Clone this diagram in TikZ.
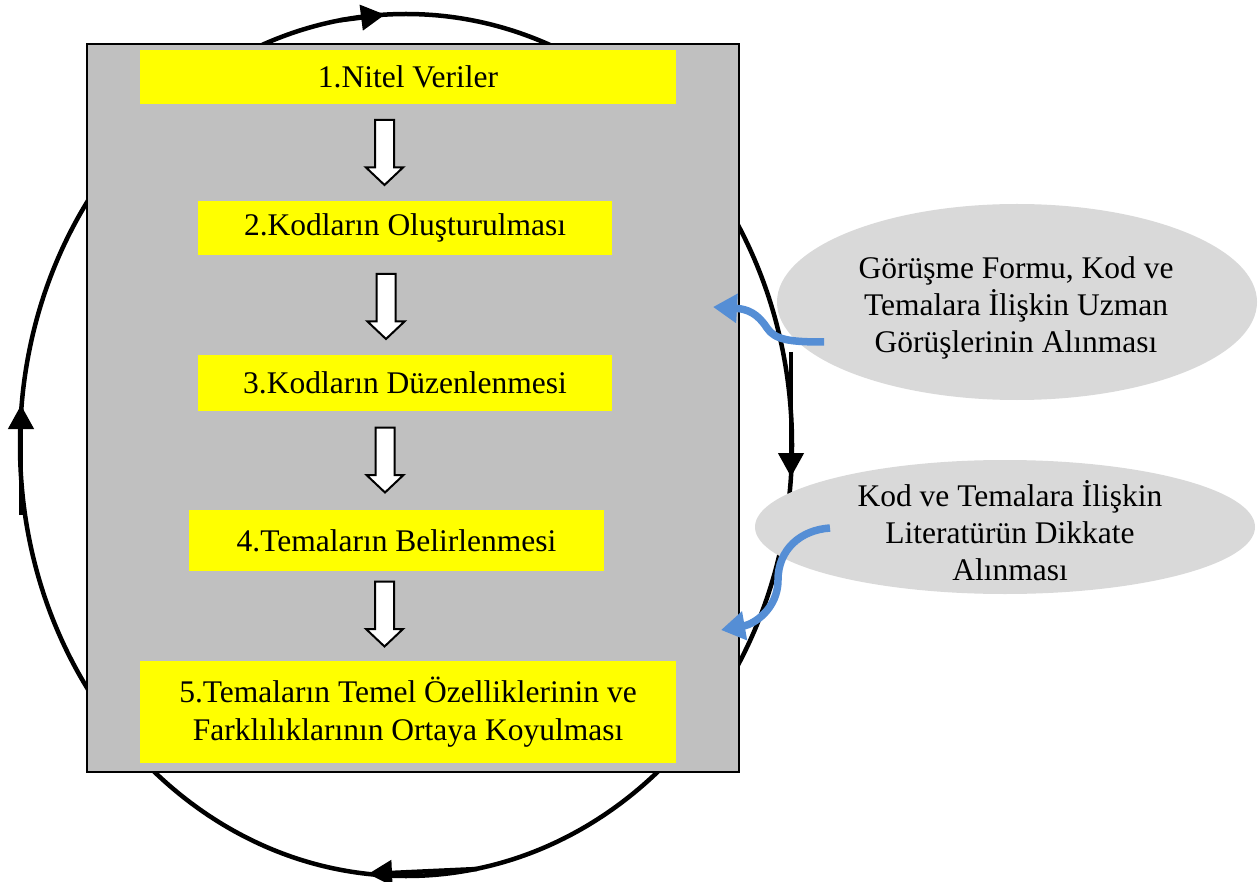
\documentclass[tikz,border=0pt]{standalone}
\usepackage{fontspec}
\setmainfont{Liberation Serif}
\usetikzlibrary{arrows.meta}
\definecolor{boxgray}{RGB}{192,192,192}
\definecolor{ellgray}{RGB}{217,217,217}
\definecolor{flowblue}{RGB}{85,142,213}
\definecolor{stepyellow}{RGB}{255,255,0}
\begin{document}
\begin{tikzpicture}[x=1pt,y=-1pt,
  stepbox/.style={fill=stepyellow, inner sep=0pt, font=\fontsize{31.5}{38}\selectfont, align=center},
  notetext/.style={inner sep=0pt, font=\fontsize{31.5}{37}\selectfont, align=center},
  cyc/.style={line width=4.5pt},
  cyctip/.style={line width=4.5pt,-{Triangle[length=24pt,width=25pt]}},
  hollow/.style={fill=white, draw=black, line width=2pt, line join=miter},
  bluearrow/.style={draw=flowblue, line width=7.5pt, -{Triangle[length=24pt,width=28pt]}},
  hollowarrow/.pic={\draw[hollow] (-9.5,-32.5) -- (9.5,-32.5) -- (9.5,15) -- (18.5,15) -- (0,32.5) -- (-18.5,15) -- (-9.5,15) -- cycle;}]
\useasboundingbox (0,0) rectangle (1258,882);
% cycle ellipse
\draw[cyc] (406,445) ellipse [x radius=386pt, y radius=431pt];
% frame
\node[draw, fill=boxgray, line width=2pt, minimum width=652pt, minimum height=728pt, inner sep=0pt] (frame) at (413,408) {};
% steps
\node[stepbox, minimum width=536pt, minimum height=54pt] (s1) at (408,77) {1.Nitel Veriler};
\node[stepbox, minimum width=414pt, minimum height=54pt] (s2) at (405,228) {2.Kodların Oluşturulması};
\node[stepbox, minimum width=414pt, minimum height=56pt] (s3) at (405,383) {3.Kodların Düzenlenmesi};
\node[stepbox, minimum width=415pt, minimum height=61pt] (s4) at (396.5,540.5) {4.Temaların Belirlenmesi};
\node[stepbox, minimum width=536pt, minimum height=102pt] (s5) at (408,712) {5.Temaların Temel Özelliklerinin ve\\Farklılıklarının Ortaya Koyulması};
% hollow arrows
\pic at (384.5,152.5) {hollowarrow};
\pic at (386,306.5) {hollowarrow};
\pic at (385,460) {hollowarrow};
\pic at (384.5,614) {hollowarrow};
% cycle arrow heads
\coordinate (t0) at (340,20.3); \coordinate (t1) at (385,14.6);
\coordinate (r0) at (791,352); \coordinate (r1) at (791,477);
\coordinate (b0) at (477,869); \coordinate (b1) at (368,874);
\coordinate (l0) at (21,515); \coordinate (l1) at (21,405);
\draw[cyctip] (t0) -- (t1);
\draw[cyctip] (r0) -- (r1);
\draw[cyctip] (b0) -- (b1);
\draw[cyctip] (l0) -- (l1);
% notes
\fill[ellgray] (1017,302) ellipse [x radius=240pt, y radius=98pt];
\node[notetext] (n1) at (1016,308) {Görüşme Formu, Kod ve\\Temalara İlişkin Uzman\\Görüşlerinin Alınması};
\fill[ellgray] (1005,527) ellipse [x radius=250pt, y radius=67pt];
\node[notetext] (n2) at (1010,531) {Kod ve Temalara İlişkin\\Literatürün Dikkate\\Alınması};
% blue arrows
\coordinate (b1s) at (824,342); \coordinate (b1e) at (713,307);
\coordinate (b2s) at (830,528); \coordinate (b2e) at (721,630);
\draw[bluearrow] (b1s) .. controls (790,342) and (775,340) .. (767,328) .. controls (758,314) and (748,309) .. (b1e);
\draw[bluearrow] (b2s) .. controls (800,530) and (778,550) .. (778,580) .. controls (778,608) and (755,624) .. (b2e);
\end{tikzpicture}
\end{document}
